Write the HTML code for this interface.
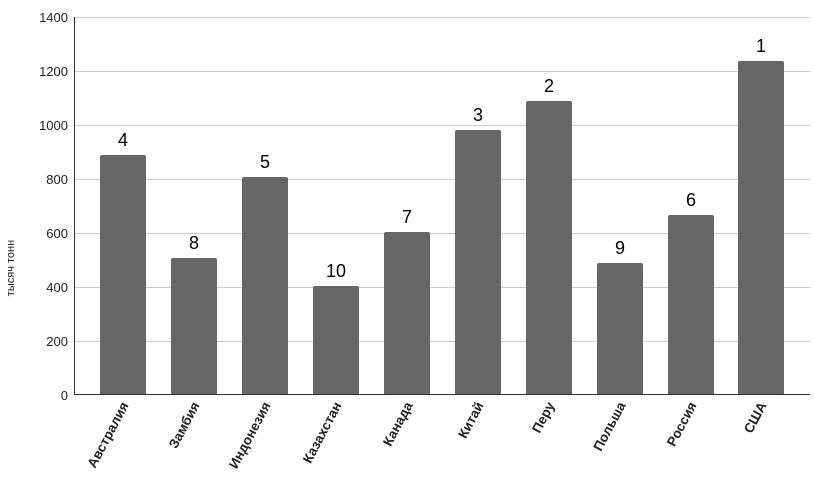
<!DOCTYPE html><html><head><style>body{margin:0;background:#fff}</style></head><body>
<svg width="814" height="486" xmlns="http://www.w3.org/2000/svg" font-family="Liberation Sans, sans-serif">
<rect width="814" height="486" fill="#fff"/>
<g stroke="#ccc" stroke-width="1">
<line x1="74" x2="810" y1="17.5" y2="17.5"/><line x1="74" x2="810" y1="71.5" y2="71.5"/><line x1="74" x2="810" y1="125.5" y2="125.5"/><line x1="74" x2="810" y1="179.5" y2="179.5"/><line x1="74" x2="810" y1="233.5" y2="233.5"/><line x1="74" x2="810" y1="287.5" y2="287.5"/><line x1="74" x2="810" y1="341.5" y2="341.5"/>
</g>
<g font-size="13" fill="#222" text-anchor="end">
<text x="68" y="22">1400</text><text x="68" y="76">1200</text><text x="68" y="130">1000</text><text x="68" y="184">800</text><text x="68" y="238">600</text><text x="68" y="292">400</text><text x="68" y="346">200</text><text x="68" y="400">0</text>
</g>
<text transform="translate(14,268) rotate(-90)" font-size="11" text-anchor="middle" fill="#222">тысяч тонн</text>
<g fill="#666">
<rect x="100" y="155" width="46" height="240" rx="2"/>
<rect x="171" y="258" width="46" height="137" rx="2"/>
<rect x="242" y="177" width="46" height="218" rx="2"/>
<rect x="313" y="286" width="46" height="109" rx="2"/>
<rect x="384" y="232" width="46" height="163" rx="2"/>
<rect x="455" y="130" width="46" height="265" rx="2"/>
<rect x="526" y="101" width="46" height="294" rx="2"/>
<rect x="597" y="263" width="46" height="132" rx="2"/>
<rect x="668" y="215" width="46" height="180" rx="2"/>
<rect x="738" y="61" width="46" height="334" rx="2"/>
</g>
<line x1="74" x2="810" y1="394.5" y2="394.5" stroke="#333"/>
<line x1="74.5" x2="74.5" y1="17" y2="395" stroke="#333"/>
<g font-size="18" fill="#000" text-anchor="middle">
<text x="123" y="146">4</text><text x="194" y="249">8</text><text x="265" y="168">5</text><text x="336" y="277">10</text><text x="407" y="223">7</text><text x="478" y="121">3</text><text x="549" y="92">2</text><text x="620" y="254">9</text><text x="691" y="206">6</text><text x="761" y="52">1</text>
</g>
<g font-size="13.5" font-weight="bold" fill="#222" text-anchor="end">
<text transform="translate(129,405) rotate(-62)">Австралия</text>
<text transform="translate(200,405) rotate(-62)">Замбия</text>
<text transform="translate(271,405) rotate(-62)">Индонезия</text>
<text transform="translate(342,405) rotate(-62)">Казахстан</text>
<text transform="translate(413,405) rotate(-62)">Канада</text>
<text transform="translate(484,405) rotate(-62)">Китай</text>
<text transform="translate(555,405) rotate(-62)">Перу</text>
<text transform="translate(626,405) rotate(-62)">Польша</text>
<text transform="translate(697,405) rotate(-62)">Россия</text>
<text transform="translate(767,405) rotate(-62)">США</text>
</g>
</svg>
</body></html>
